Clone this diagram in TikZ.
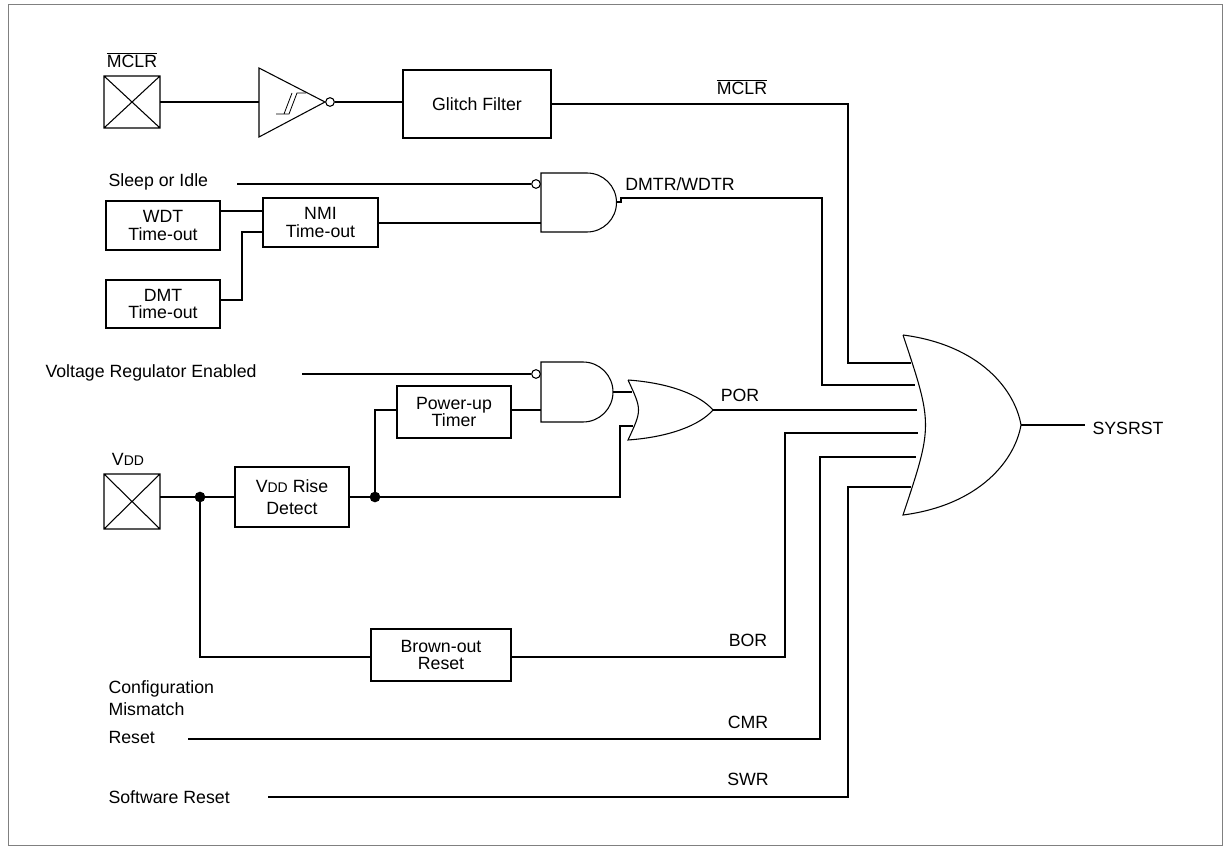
\documentclass[tikz,border=0pt]{standalone}
\usepackage{fontspec}
\setmainfont{Liberation Sans}
\newcommand{\vdd}{V{\fontsize{10.5}{10.5}\selectfont DD}}
\begin{document}
\begin{tikzpicture}[x=0.75pt,y=-0.75pt,line width=0.8pt,
  box/.style={draw,minimum width=0pt,inner sep=0pt},
  lbl/.style={font=\fontsize{13.3}{15}\selectfont,inner sep=0pt},
  dotn/.style={circle,fill,inner sep=0pt,minimum size=8pt},
  bub/.style={circle,draw,fill=white,inner sep=0pt,minimum size=6.5pt}]
\useasboundingbox (0,0) rectangle (1228,848);
\draw[line width=0.6pt,gray] (8,4) rectangle (1222,845);
% boxes
\newcommand{\bx}[6]{\draw (#2,#3) rectangle (#4,#5); \node[lbl,align=center] (#1) at ({(#2+#4)/2},{(#3+#5)/2}) {#6};}
\bx{glitch}{403}{70}{551}{138}{Glitch Filter}
\bx{wdt}{106}{201}{220}{250}{WDT\\[-2pt]Time-out}
\bx{nmi}{263}{198}{378}{247}{NMI\\[-2pt]Time-out}
\bx{dmt}{106}{280}{220}{328}{DMT\\[-2pt]Time-out}
\bx{put}{397}{386}{511}{438}{Power-up\\[-2pt]Timer}
\bx{rise}{235}{467}{349}{527}{\vdd\ Rise\\[2pt]Detect}
\bx{bor}{371}{629}{511}{681}{Brown-out\\[-2pt]Reset}
% pads
\draw (104,76) rectangle (160,128) (104,76)--(160,128) (104,128)--(160,76);
\draw (104,474) rectangle (160,529) (104,474)--(160,529) (104,529)--(160,474);
\node[lbl] (mclrl) at (132,60) {$\overline{\mbox{MCLR}}$};
\node[lbl] (vddl) at (128,459) {\vdd};
% buffer
\draw (259,68)--(325,102)--(259,137)--cycle;
\draw[line width=0.6pt] (276,114)--(289,114)--(297,93)--(306,93) (284,114)--(292,93);
\node[bub] (bb) at (330,102) {};
\draw (160,102)--(259,102) (bb.east)--(403,102);
\draw (551,104)--(848,104)--(848,363)--(911,363);
\node[lbl] at (742,87) {$\overline{\mbox{MCLR}}$};
% AND1
\draw (541,173)--(587,173) .. controls (603.3,173) and (616.5,186.2) .. (616.5,202.5) .. controls (616.5,218.8) and (603.3,232) .. (587,232)--(541,232)--cycle;
\node[bub] (b1) at (536,184) {};
\node[lbl,anchor=west] at (108,182) {Sleep or Idle};
\draw (237,184)--(b1.west);
\draw (378,223)--(541,223);
\draw (220,211)--(263,211);
\draw (220,300)--(242,300)--(242,232)--(263,232);
\draw (616.5,202)--(621,202)--(621,198)--(822,198)--(822,385)--(915,385);
\node[lbl] at (680,184) {DMTR/WDTR};
% AND2
\draw (541,362)--(583,362) .. controls (599.6,362) and (613,375.4) .. (613,392) .. controls (613,408.6) and (599.6,422) .. (583,422)--(541,422)--cycle;
\node[bub] (b2) at (536,374) {};
\node[lbl,anchor=west] at (45,373) {Voltage Regulator Enabled};
\draw (302,374)--(b2.west);
\draw (511,410)--(541,410);
\draw (613,392)--(632,392);
% small OR
\draw (628,380) .. controls (642,410) .. (628,440) .. controls (670,437) and (700,425) .. (713,410) .. controls (700,395) and (670,383) .. (628,380);
\draw (713,410)--(917,410);
\node[lbl] at (740,395) {POR};
% VDD wiring
\draw (160,497)--(235,497) (349,497)--(620,497)--(620,426)--(633,426);
\node[dotn] (d1) at (200,497) {};
\node[dotn] (d2) at (375,497) {};
\draw (d2.center)--(375,410)--(397,410);
\draw (d1.center)--(200,657)--(371,657) (511,657)--(785,657)--(785,433)--(918,433);
\node[lbl] at (748,640) {BOR};
% CMR
\node[lbl,anchor=west,align=left] at (108,712) {Configuration\\[2pt]Mismatch\\[6pt]Reset};
\draw (188,739)--(820,739)--(820,457)--(916,457);
\node[lbl] at (748,722) {CMR};
\node[lbl,anchor=west] at (108,797) {Software Reset};
\draw (268,797)--(848,797)--(848,487)--(911,487);
\node[lbl] at (748,779) {SWR};
% big OR
\draw (903,335) .. controls (933,425) .. (903,515) .. controls (980,505) and (1015,460) .. (1021,425) .. controls (1015,390) and (980,345) .. (903,335);
\draw (1021,425)--(1085,425);
\node[lbl,anchor=west] at (1092,428) {SYSRST};
\end{tikzpicture}
\end{document}
